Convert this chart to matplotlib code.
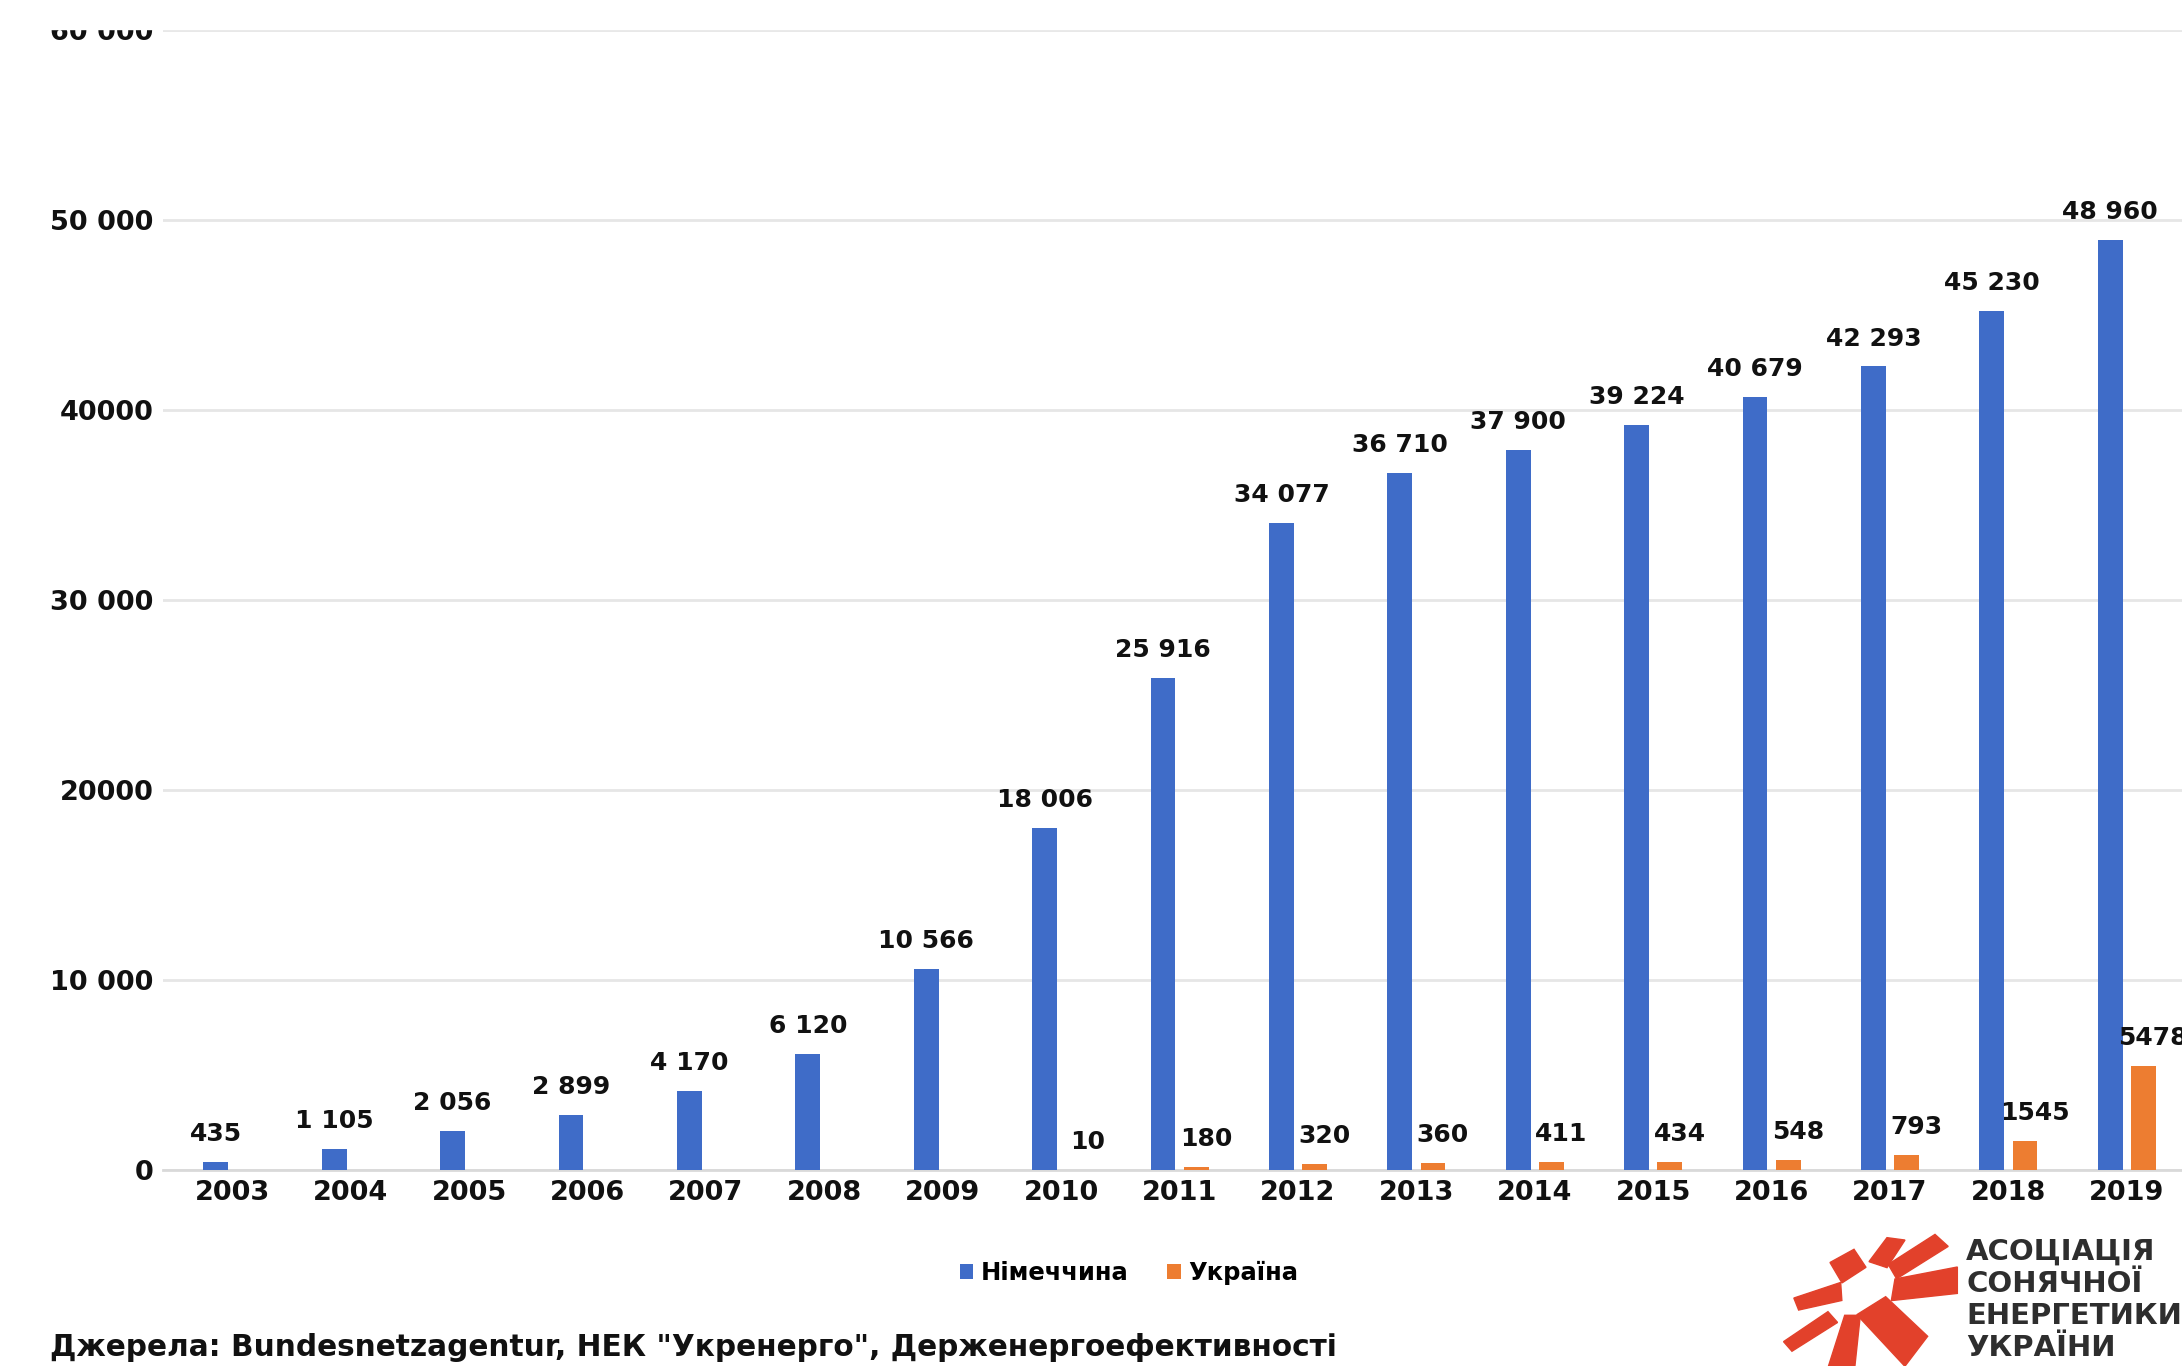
import matplotlib
matplotlib.use('Agg')
import matplotlib.pyplot as plt
import numpy as np
from matplotlib.patches import Polygon, Rectangle

# ---------------- data ----------------
years = [str(y) for y in range(2003, 2020)]
germany = [435, 1105, 2056, 2899, 4170, 6120, 10566, 18006, 25916, 34077,
           36710, 37900, 39224, 40679, 42293, 45230, 48960]
ukraine = [None, None, None, None, None, None, None, 10, 180, 320,
           360, 411, 434, 548, 793, 1545, 5478]
ytick_values = [0, 10000, 20000, 30000, 40000, 50000, 60000]
ytick_labels = ["0", "10 000", "20000", "30 000", "40000", "50 000", "60 000"]
series_names = ["Німеччина", "Україна"]
source_text = 'Джерела: Bundesnetzagentur, НЕК "Укренерго", Держенергоефективності'
logo_lines = ["АСОЦІАЦІЯ", "СОНЯЧНОЇ", "ЕНЕРГЕТИКИ", "УКРАЇНИ"]

BLUE = "#3f6cc8"
ORANGE = "#ed7d31"
GRID = "#e6e6e6"
RED = "#e2412b"

W, H = 2182, 1366
plt.rcParams['font.family'] = ['DejaVu Sans']
fig = plt.figure(figsize=(W / 100, H / 100), dpi=100)
fig.patch.set_facecolor('white')

# main axes in pixel layout
ax_left, ax_right = 163, 2182
y_zero, y_top = 1170, 30
ax = fig.add_axes([ax_left / W, (H - y_zero) / H, (ax_right - ax_left) / W, (y_zero - y_top) / H])
ax.set_facecolor('white')

x = np.arange(len(years))
bw = 0.21
off = 0.14
g_vals = np.array(germany, dtype=float)
u_vals = np.array([v if v is not None else 0 for v in ukraine], dtype=float)
ax.bar(x - off, g_vals, width=bw, color=BLUE, zorder=3, label=series_names[0])
ax.bar(x + off, u_vals, width=bw, color=ORANGE, zorder=3, label=series_names[1])

ax.set_ylim(0, 60000)
ax.set_xlim(-0.586, 16.466)
ax.set_yticks(ytick_values)
ax.set_yticklabels(ytick_labels)
ax.set_xticks(x)
ax.set_xticklabels(years)
ax.tick_params(axis='both', length=0, labelsize=19.5)
ax.tick_params(axis='x', pad=7)
ax.tick_params(axis='y', pad=7)
for lab in ax.get_xticklabels() + ax.get_yticklabels():
    lab.set_fontweight('bold')
    lab.set_color('#111111')
for s in ax.spines.values():
    s.set_visible(False)
ax.yaxis.grid(True, color=GRID, linewidth=2, zorder=0)
ax.set_axisbelow(True)
ax.axhline(0, color="#d9d9d9", linewidth=2, zorder=2, clip_on=False)


def fmt(v):
    return f"{int(v):,}".replace(",", " ")


for xi, v in zip(x, germany):
    ax.annotate(fmt(v), xy=(xi - off, v), xytext=(0, 20), textcoords='offset points',
                ha='center', va='center', fontsize=18, fontweight='bold', color='#111111')
for xi, v in zip(x, ukraine):
    if v is None:
        continue
    ax.annotate(str(v), xy=(xi + off, v), xytext=(7, 20), textcoords='offset points',
                ha='center', va='center', fontsize=18, fontweight='bold', color='#111111')

# legend
leg = fig.legend(loc='center', bbox_to_anchor=(1129 / W, 1 - 1273 / H), ncol=2, frameon=False,
                 handlelength=0.55, handleheight=0.55, handletextpad=0.3, columnspacing=1.6,
                 prop={'size': 17.5, 'weight': 'bold'})

# source
fig.text(50 / W, 1 - 1347 / H, source_text, ha='left', va='center', fontsize=21.3,
         fontweight='heavy', color='#111111')

# overlay axes in pixel coordinates (top-down) for logo and top crop
ov = fig.add_axes([0, 0, 1, 1], zorder=10)
ov.set_xlim(0, W)
ov.set_ylim(H, 0)
ov.axis('off')
ov.patch.set_alpha(0)
ov.add_patch(Rectangle((0, 0), W, 29, color='white', zorder=1))

logo_rays = [
    [(1838, 1263), (1858, 1252), (1868, 1267), (1848, 1280)],
    [(1877, 1260), (1892, 1240), (1907, 1242), (1892, 1265)],
    [(1898, 1263), (1937, 1238), (1948, 1248), (1905, 1275)],
    [(1905, 1280), (1957, 1270), (1957, 1292), (1902, 1298)],
    [(1868, 1317), (1892, 1302), (1927, 1335), (1908, 1360)],
    [(1850, 1320), (1863, 1320), (1858, 1367), (1835, 1367)],
    [(1793, 1340), (1830, 1315), (1838, 1324), (1800, 1348)],
    [(1803, 1298), (1842, 1285), (1843, 1300), (1807, 1308)],
]
for pts in logo_rays:
    p = np.array(pts, dtype=float)
    c = p.mean(axis=0)
    p = c + (p - c) * 1.2
    p[:, 0] -= 5
    ov.add_patch(Polygon(p, closed=True, color=RED, zorder=2))

for i, line in enumerate(logo_lines):
    ov.text(1966, 1252 + i * 32, line, ha='left', va='center', fontsize=21,
            fontweight='bold', color='#2e2e2e', zorder=3)

fig.savefig('out.png', dpi=100, facecolor='white')
